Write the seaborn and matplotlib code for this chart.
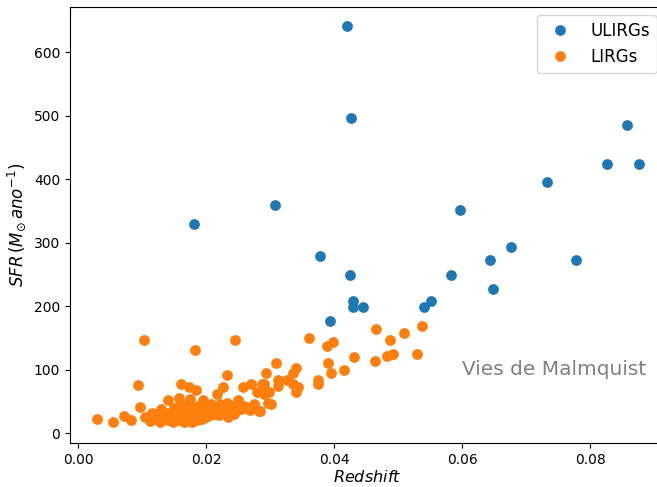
import matplotlib
matplotlib.use("Agg")
import matplotlib.pyplot as plt
from matplotlib.lines import Line2D
import seaborn as sns
import pandas as pd

# ULIRGs
ulirg_z = [0.0420, 0.0427, 0.0181, 0.0308, 0.0378, 0.0425, 0.0394, 0.0430, 0.0430,
           0.0445, 0.0541, 0.0552, 0.0583, 0.0597, 0.0644, 0.0648, 0.0677, 0.0733,
           0.0778, 0.0827, 0.0858, 0.0877]
ulirg_sfr = [641, 496, 329, 359, 279, 249, 176, 208, 198,
             198, 198, 208, 249, 351, 272, 227, 293, 395,
             272, 424, 485, 424]

# LIRGs
lirg_z = [0.0030, 0.0054, 0.0072, 0.0083, 0.0094, 0.0097, 0.0103, 0.0105, 0.0113, 0.0115,
          0.0130, 0.0141, 0.0157, 0.0161, 0.0173, 0.0175, 0.0182, 0.0185, 0.0196, 0.0217,
          0.0226, 0.0232, 0.0235, 0.0245, 0.0250, 0.0258, 0.0264, 0.0271, 0.0275, 0.0279,
          0.0283, 0.0287, 0.0290, 0.0290, 0.0293, 0.0297, 0.0299, 0.0302, 0.0310, 0.0313,
          0.0313, 0.0326, 0.0336, 0.0336, 0.0341, 0.0341, 0.0344, 0.0361, 0.0375, 0.0375,
          0.0389, 0.0391, 0.0395, 0.0399, 0.0416, 0.0431, 0.0464, 0.0465, 0.0482, 0.0488,
          0.0492, 0.0509, 0.0529, 0.0537, 0.0284,
          0.0120, 0.0125, 0.0128, 0.0135, 0.0138, 0.0140, 0.0145, 0.0148, 0.0150, 0.0152,
          0.0155, 0.0158, 0.0160, 0.0162, 0.0165, 0.0167, 0.0168, 0.0170, 0.0172, 0.0174,
          0.0176, 0.0178, 0.0180, 0.0182, 0.0184, 0.0186, 0.0188, 0.0190, 0.0192, 0.0194,
          0.0196, 0.0198, 0.0200, 0.0203, 0.0206, 0.0208, 0.0210, 0.0212, 0.0215, 0.0218,
          0.0220, 0.0222, 0.0225, 0.0228, 0.0230, 0.0233, 0.0238, 0.0240, 0.0243, 0.0248,
          0.0255, 0.0260, 0.0268]
lirg_sfr = [22, 17, 27, 21, 76, 41, 146, 25, 19, 32,
            38, 52, 55, 77, 72, 53, 131, 68, 52, 62,
            72, 92, 26, 146, 52, 72, 39, 77, 46, 65,
            35, 77, 62, 77, 95, 48, 65, 46, 111, 84,
            74, 83, 78, 95, 103, 64, 73, 150, 83, 77,
            137, 111, 94, 143, 99, 119, 114, 164, 121, 146,
            124, 157, 124, 168, 34,
            22, 28, 18, 25, 32, 20, 28, 17, 40, 24,
            33, 20, 45, 28, 18, 38, 24, 33, 20, 45,
            28, 17, 38, 24, 32, 20, 42, 28, 35, 22,
            30, 40, 25, 33, 28, 45, 36, 30, 40, 33,
            28, 45, 38, 33, 42, 48, 35, 42, 30, 45,
            38, 42, 36]

xticks = [0.00, 0.02, 0.04, 0.06, 0.08]
yticks = [0, 100, 200, 300, 400, 500, 600]
labels = ["ULIRGs", "LIRGs"]
colors = ["#1f77b4", "#ff7f0e"]

df_u = pd.DataFrame({"z": ulirg_z, "sfr": ulirg_sfr})
df_l = pd.DataFrame({"z": lirg_z, "sfr": lirg_sfr})

fig = plt.figure(figsize=(6.57, 4.87), dpi=100)
# axes extends a little beyond the right edge of the picture, as in the reference
ax = fig.add_axes([70 / 657, 44 / 487, 595 / 657, 436 / 487])

sns.scatterplot(data=df_u, x="z", y="sfr", ax=ax, color=colors[0], s=60,
                linewidth=0, legend=False)
sns.scatterplot(data=df_l, x="z", y="sfr", ax=ax, color=colors[1], s=60,
                linewidth=0, legend=False)

ax.set_xlim(-0.00125, 0.0917)
ax.set_ylim(-15.7, 671)
ax.set_xticks(xticks)
ax.set_xticklabels([f"{t:.2f}" for t in xticks])
ax.set_yticks(yticks)
ax.tick_params(labelsize=10)
ax.set_xlabel("$Redshift$", fontsize=11.5, labelpad=2)
ax.set_ylabel(r"$SFR\,(M_{\odot}\,ano^{-1})$", fontsize=12)

ax.text(0.0600, 100, "Vies de Malmquist", fontsize=14.5, color="gray",
        ha="left", va="center")
handles = [Line2D([], [], linestyle="none", marker="o", markersize=7.7,
                  color=c, markeredgewidth=0) for c in colors]
ax.legend(handles, labels, loc="upper right", fontsize=12,
          borderaxespad=0.5)

fig.savefig("out.png", dpi=100)
